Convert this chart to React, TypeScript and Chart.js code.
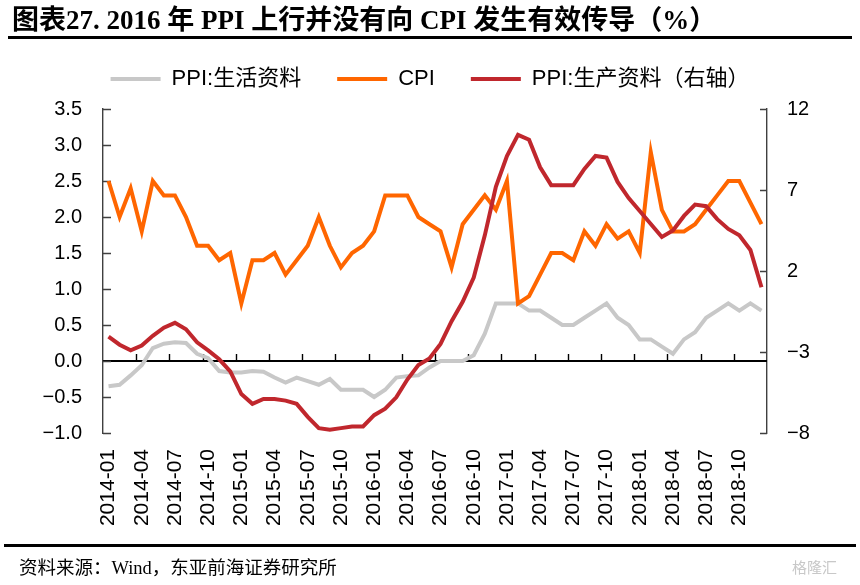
import React, { useEffect, useRef } from "react";
import { Chart, registerables } from "chart.js";

Chart.register(...registerables);

// ---------- data ----------
const categories = [
  "2014-01", "2014-02", "2014-03", "2014-04", "2014-05", "2014-06", "2014-07", "2014-08", "2014-09", "2014-10", "2014-11", "2014-12",
  "2015-01", "2015-02", "2015-03", "2015-04", "2015-05", "2015-06", "2015-07", "2015-08", "2015-09", "2015-10", "2015-11", "2015-12",
  "2016-01", "2016-02", "2016-03", "2016-04", "2016-05", "2016-06", "2016-07", "2016-08", "2016-09", "2016-10", "2016-11", "2016-12",
  "2017-01", "2017-02", "2017-03", "2017-04", "2017-05", "2017-06", "2017-07", "2017-08", "2017-09", "2017-10", "2017-11", "2017-12",
  "2018-01", "2018-02", "2018-03", "2018-04", "2018-05", "2018-06", "2018-07", "2018-08", "2018-09", "2018-10", "2018-11", "2018-12",
];

// PPI:生活资料 (left axis)
const ppiConsumer = [
  -0.35, -0.33, -0.2, -0.06, 0.18, 0.24, 0.26, 0.25, 0.1, 0.04, -0.14, -0.16,
  -0.16, -0.14, -0.15, -0.23, -0.3, -0.23, -0.28, -0.33, -0.25, -0.4, -0.4, -0.4,
  -0.5, -0.4, -0.23, -0.21, -0.2, -0.09, 0.0, 0.0, 0.0, 0.08, 0.38, 0.8,
  0.8, 0.8, 0.7, 0.7, 0.6, 0.5, 0.5, 0.6, 0.7, 0.8, 0.6, 0.5,
  0.3, 0.3, 0.2, 0.1, 0.3, 0.4, 0.6, 0.7, 0.8, 0.7, 0.8, 0.7,
];

// CPI (left axis)
const cpi = [
  2.5, 2.0, 2.4, 1.8, 2.5, 2.3, 2.3, 2.0, 1.6, 1.6, 1.4, 1.5,
  0.8, 1.4, 1.4, 1.5, 1.2, 1.4, 1.6, 2.0, 1.6, 1.3, 1.5, 1.6,
  1.8, 2.3, 2.3, 2.3, 2.0, 1.9, 1.8, 1.3, 1.9, 2.1, 2.3, 2.1,
  2.5, 0.8, 0.9, 1.2, 1.5, 1.5, 1.4, 1.8, 1.6, 1.9, 1.7, 1.8,
  1.5, 2.9, 2.1, 1.8, 1.8, 1.9, 2.1, 2.3, 2.5, 2.5, 2.2, 1.9,
];

// PPI:生产资料 (right axis)
const ppiProducer = [
  -2.05, -2.55, -2.9, -2.6, -2.0, -1.5, -1.2, -1.6, -2.4, -2.9, -3.45, -4.2,
  -5.6, -6.2, -5.9, -5.9, -6.0, -6.2, -7.0, -7.7, -7.8, -7.7, -7.6, -7.6,
  -6.9, -6.5, -5.8, -4.7, -3.8, -3.4, -2.5, -1.1, 0.1, 1.6, 4.2, 7.2,
  9.1, 10.4, 10.1, 8.4, 7.3, 7.3, 7.3, 8.3, 9.1, 9.0, 7.5, 6.5,
  5.7, 4.9, 4.1, 4.5, 5.4, 6.1, 6.0, 5.2, 4.6, 4.2, 3.3, 1.0,
];

const seriesNames = ["PPI:生活资料", "CPI", "PPI:生产资料（右轴）"];
const leftAxisMin = -1.0;
const leftAxisMax = 3.5;
const leftAxisStep = 0.5;
const rightAxisMin = -8;
const rightAxisMax = 12;
const rightAxisStep = 5;
const labelEvery = 3;

const title = "图表27. 2016 年 PPI 上行并没有向 CPI 发生有效传导（%）";
const source = "资料来源：Wind，东亚前海证券研究所";

// ---------- styling ----------
const W = 860;
const H = 585;
const SANS = '"Liberation Sans", Arial, "Noto Sans CJK SC", sans-serif';
const SERIF = '"Liberation Serif", "Times New Roman", "Noto Sans CJK SC", serif';
const GRAY = "#c8c8c8";
const ORANGE = "#ff6600";
const RED = "#c0272d";
const AXIS = "#404040";

const LEGEND_TOP = 32;
const LEGEND_HEIGHT = 77;

const fmtNum = (v: number, digits: number) => {
  const s = Math.abs(v).toFixed(digits);
  return v < 0 ? "\u2212" + s : s;
};

const decorPlugin = {
  id: "axisDecor",
  beforeLayout(chart: any) {
    const lg = chart.legend;
    if (lg && !lg.__patched) {
      const orig = lg.fit;
      lg.fit = function () {
        orig.call(this);
        this.height = LEGEND_HEIGHT;
      };
      lg.__patched = true;
    }
  },
  beforeDatasetsDraw(chart: any) {
    const { ctx, chartArea, scales } = chart;
    const x = scales.x;
    const yl = scales.y;
    const yr = scales.y1;
    ctx.save();
    // zero line with upward ticks every 3 months
    const y0 = yl.getPixelForValue(0);
    ctx.strokeStyle = "#000";
    ctx.lineWidth = 1.8;
    ctx.beginPath();
    ctx.moveTo(chartArea.left, y0);
    ctx.lineTo(chartArea.right, y0);
    ctx.stroke();
    const n = categories.length;
    const w = (x.right - x.left) / n;
    ctx.lineWidth = 1.4;
    ctx.beginPath();
    for (let k = labelEvery; k < n; k += labelEvery) {
      const px = Math.round(x.left + k * w) + 0.5;
      ctx.moveTo(px, y0);
      ctx.lineTo(px, y0 - 7);
    }
    ctx.stroke();
    // inward ticks on both y axes
    ctx.strokeStyle = AXIS;
    ctx.lineWidth = 1.4;
    ctx.beginPath();
    yl.ticks.forEach((t: any) => {
      const py = Math.round(yl.getPixelForValue(t.value)) + 0.5;
      ctx.moveTo(chartArea.left, py);
      ctx.lineTo(chartArea.left + 8, py);
    });
    yr.ticks.forEach((t: any) => {
      const py = Math.round(yr.getPixelForValue(t.value)) + 0.5;
      ctx.moveTo(chartArea.right - 7, py);
      ctx.lineTo(chartArea.right, py);
    });
    ctx.stroke();
    ctx.restore();
  },
};

export default function App() {
  const canvasRef = useRef<HTMLCanvasElement | null>(null);

  useEffect(() => {
    if (!canvasRef.current) return;
    const chart = new Chart(canvasRef.current, {
      type: "line",
      data: {
        labels: categories,
        datasets: [
          {
            label: seriesNames[0],
            data: ppiConsumer,
            borderColor: GRAY,
            backgroundColor: GRAY,
            borderWidth: 4,
            pointRadius: 0,
            yAxisID: "y",
            order: 3,
          },
          {
            label: seriesNames[1],
            data: cpi,
            borderColor: ORANGE,
            backgroundColor: ORANGE,
            borderWidth: 4,
            pointRadius: 0,
            yAxisID: "y",
            order: 2,
          },
          {
            label: seriesNames[2],
            data: ppiProducer,
            borderColor: RED,
            backgroundColor: RED,
            borderWidth: 4,
            pointRadius: 0,
            yAxisID: "y1",
            order: 1,
          },
        ],
      },
      options: {
        responsive: false,
        animation: false,
        events: [],
        layout: { padding: { top: LEGEND_TOP, left: 0, right: 0, bottom: 50 } },
        plugins: {
          tooltip: { enabled: false },
          legend: {
            display: true,
            position: "top",
            labels: {
              boxWidth: 50,
              boxHeight: 4,
              padding: 36,
              color: "#000",
              font: { family: SANS, size: 22 },
              sort: (a: any, b: any) => a.datasetIndex - b.datasetIndex,
              generateLabels: (c: any) =>
                Chart.defaults.plugins.legend.labels
                  .generateLabels(c)
                  .map((l: any) => ({ ...l, lineWidth: 0 })),
            },
          },
        },
        scales: {
          x: {
            type: "category",
            offset: true,
            grid: { display: false, drawTicks: false },
            border: { display: false },
            ticks: {
              autoSkip: false,
              maxRotation: 90,
              minRotation: 90,
              padding: 16,
              color: "#000",
              font: { family: SANS, size: 21 },
              callback: (_v: any, i: number) => (i % labelEvery === 0 ? categories[i] : ""),
            },
            afterFit: (s: any) => {
              s.height = 102;
            },
          },
          y: {
            position: "left",
            min: leftAxisMin,
            max: leftAxisMax,
            grid: { display: false, drawTicks: false },
            border: { display: true, color: AXIS, width: 1.4 },
            ticks: {
              stepSize: leftAxisStep,
              padding: 21,
              color: "#000",
              font: { family: SANS, size: 20 },
              callback: (v: any) => fmtNum(Number(v), 1),
            },
            afterFit: (s: any) => {
              s.width = 103;
            },
          },
          y1: {
            position: "right",
            min: rightAxisMin,
            max: rightAxisMax,
            grid: { display: false, drawTicks: false },
            border: { display: true, color: AXIS, width: 1.4 },
            ticks: {
              stepSize: rightAxisStep,
              padding: 20,
              color: "#000",
              font: { family: SANS, size: 20 },
              callback: (v: any) => fmtNum(Number(v), 0),
            },
            afterFit: (s: any) => {
              s.width = 93;
            },
          },
        },
      },
      plugins: [decorPlugin],
    } as any);
    return () => chart.destroy();
  }, []);

  return (
    <div
      style={{
        position: "absolute",
        left: 0,
        top: 0,
        width: W,
        height: H,
        background: "#fff",
        overflow: "hidden",
      }}
    >
      <canvas ref={canvasRef} width={W} height={H} style={{ position: "absolute", left: 0, top: 0 }} />
      <div
        style={{
          position: "absolute",
          left: 12,
          top: 4,
          fontFamily: SERIF,
          fontWeight: "bold",
          fontSize: 27,
          lineHeight: "32px",
          color: "#000",
          whiteSpace: "nowrap",
        }}
      >
        {title}
      </div>
      <div style={{ position: "absolute", left: 8, top: 36, width: 844, height: 3, background: "#000" }} />
      <div style={{ position: "absolute", left: 4, top: 544, width: 852, height: 3, background: "#000" }} />
      <div
        style={{
          position: "absolute",
          left: 19,
          top: 556,
          fontFamily: SERIF,
          fontSize: 18.5,
          lineHeight: "24px",
          color: "#000",
          whiteSpace: "nowrap",
        }}
      >
        {source}
      </div>
      <div
        style={{
          position: "absolute",
          left: 792,
          top: 558,
          fontFamily: SANS,
          fontSize: 15,
          lineHeight: "20px",
          color: "#c8c8c8",
          whiteSpace: "nowrap",
        }}
      >
        格隆汇
      </div>
    </div>
  );
}
